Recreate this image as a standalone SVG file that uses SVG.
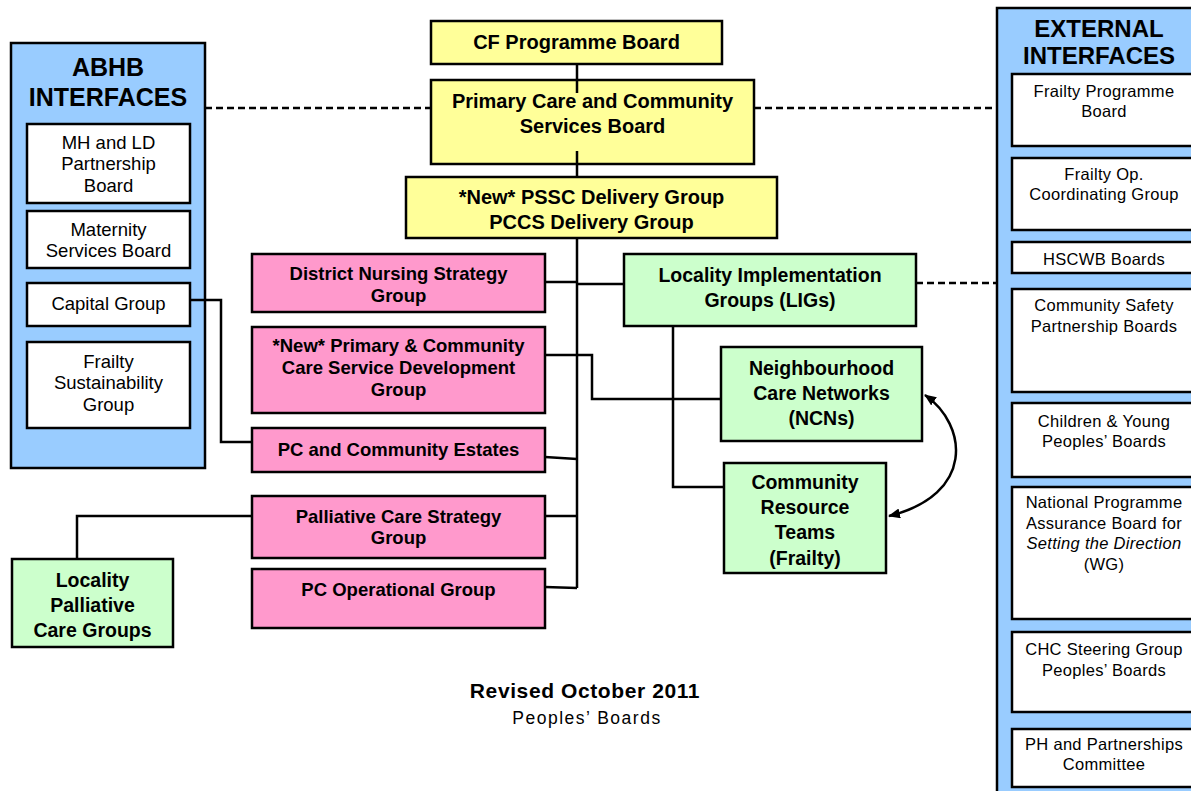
<svg xmlns="http://www.w3.org/2000/svg" width="1191" height="791" viewBox="0 0 1191 791">
<defs>
<style>
text{font-family:"Liberation Sans",Arial,sans-serif;text-anchor:middle;fill:#000}
.panel{fill:#99CCFF;stroke:#000;stroke-width:2.5}
.white{fill:#fff;stroke:#000;stroke-width:2.5}
.yel{fill:#FFFF99;stroke:#000;stroke-width:2.5}
.pink{fill:#FF99CC;stroke:#000;stroke-width:2.5}
.grn{fill:#CCFFCC;stroke:#000;stroke-width:2.5}
.ttl{font-weight:bold;font-size:25px}
.ttl2{font-weight:bold;font-size:24px}
.y{font-weight:bold;font-size:20px}
.p{font-weight:bold;font-size:18.5px}
.g{font-weight:bold;font-size:19.5px}
.a{font-size:18.5px}
.e{font-size:16.5px;letter-spacing:0.3px}
.ln{fill:none;stroke:#000;stroke-width:2.5}
.dash{fill:none;stroke:#000;stroke-width:2.5;stroke-dasharray:7 4}
</style>
<marker id="ah" viewBox="0 0 12 10" refX="11" refY="5" markerWidth="12" markerHeight="10" markerUnits="userSpaceOnUse" orient="auto-start-reverse">
<path d="M0,0 L12,5 L0,10 Z" fill="#000"/>
</marker>
</defs>
<rect width="1191" height="791" fill="#fff"/>

<g id="abhb">
<rect class="panel" x="11" y="43" width="194" height="425"/>
<text class="ttl" x="108" y="76">ABHB</text>
<text class="ttl" x="108" y="106">INTERFACES</text>
</g>
<g id="mhld"><rect class="white" x="27" y="124" width="163" height="79"/>
<text class="a" x="108.5" y="148.5">MH and LD<tspan x="108.5" y="169.5">Partnership</tspan><tspan x="108.5" y="191.5">Board</tspan></text></g>
<g id="maternity"><rect class="white" x="27" y="211" width="163" height="57"/>
<text class="a" x="108.5" y="235.5">Maternity<tspan x="108.5" y="256.5">Services Board</tspan></text></g>
<g id="capital"><rect class="white" x="27" y="283" width="163" height="43"/>
<text class="a" x="108.5" y="309.5">Capital Group</text></g>
<g id="frailty-sus"><rect class="white" x="27" y="342" width="163" height="86"/>
<text class="a" x="108.5" y="367.5">Frailty<tspan x="108.5" y="388.5">Sustainability</tspan><tspan x="108.5" y="410.5">Group</tspan></text></g>

<g id="external">
<rect class="panel" x="997" y="8" width="210" height="800"/>
<text class="ttl2" x="1099" y="36.5">EXTERNAL</text>
<text class="ttl2" x="1099" y="63.5">INTERFACES</text>
</g>
<g id="fpb"><rect class="white" x="1012" y="74" width="190" height="72"/>
<text class="e" x="1104" y="97">Frailty Programme<tspan x="1104" y="117">Board</tspan></text></g>
<g id="fop"><rect class="white" x="1012" y="158" width="190" height="72"/>
<text class="e" x="1104" y="180">Frailty Op.<tspan x="1104" y="200">Coordinating Group</tspan></text></g>
<g id="hscwb"><rect class="white" x="1012" y="242" width="190" height="31"/>
<text class="e" x="1104" y="265">HSCWB Boards</text></g>
<g id="csp"><rect class="white" x="1012" y="289" width="190" height="103"/>
<text class="e" x="1104" y="311">Community Safety<tspan x="1104" y="332">Partnership Boards</tspan></text></g>
<g id="cyp"><rect class="white" x="1012" y="403" width="190" height="74"/>
<text class="e" x="1104" y="427">Children &amp; Young<tspan x="1104" y="447">Peoples’ Boards</tspan></text></g>
<g id="npab"><rect class="white" x="1012" y="487" width="190" height="132"/>
<text class="e" x="1104" y="508">National Programme<tspan x="1104" y="529">Assurance Board for</tspan><tspan x="1104" y="549" font-style="italic">Setting the Direction</tspan><tspan x="1104" y="570">(WG)</tspan></text></g>
<g id="chc"><rect class="white" x="1012" y="632" width="190" height="80"/>
<text class="e" x="1104" y="655">CHC Steering Group<tspan x="1104" y="676">Peoples’ Boards</tspan></text></g>
<g id="ph"><rect class="white" x="1012" y="729" width="190" height="58"/>
<text class="e" x="1104" y="750">PH and Partnerships<tspan x="1104" y="770">Committee</tspan></text></g>

<g id="cf"><rect class="yel" x="431" y="21" width="291" height="43"/>
<text class="y" x="576.5" y="49">CF Programme Board</text></g>
<g id="pccsb"><rect class="yel" x="431" y="80" width="323" height="84"/>
<text class="y" x="592.5" y="108">Primary Care and Community<tspan x="592.5" y="133">Services Board</tspan></text></g>
<g id="pssc"><rect class="yel" x="406" y="177" width="371" height="61"/>
<text class="y" x="591.5" y="204">*New* PSSC Delivery Group<tspan x="591.5" y="229">PCCS Delivery Group</tspan></text></g>

<g id="dnsg"><rect class="pink" x="252" y="254" width="293" height="58"/>
<text class="p" x="398.5" y="279.5">District Nursing Strategy<tspan x="398.5" y="301.5">Group</tspan></text></g>
<g id="pcsdg"><rect class="pink" x="252" y="327" width="293" height="86"/>
<text class="p" x="398.5" y="351.5">*New* Primary &amp; Community<tspan x="398.5" y="373.5">Care Service Development</tspan><tspan x="398.5" y="395.5">Group</tspan></text></g>
<g id="estates"><rect class="pink" x="252" y="428" width="293" height="44"/>
<text class="p" x="398.5" y="455.5">PC and Community Estates</text></g>
<g id="pcsg"><rect class="pink" x="252" y="496" width="293" height="62"/>
<text class="p" x="398.5" y="522.5">Palliative Care Strategy<tspan x="398.5" y="543.5">Group</tspan></text></g>
<g id="pcop"><rect class="pink" x="252" y="569" width="293" height="59"/>
<text class="p" x="398.5" y="595.5">PC Operational Group</text></g>

<g id="lig"><rect class="grn" x="624" y="254" width="292" height="72"/>
<text class="g" x="770" y="282">Locality Implementation<tspan x="770" y="307">Groups (LIGs)</tspan></text></g>
<g id="ncn"><rect class="grn" x="721" y="347" width="201" height="94"/>
<text class="g" x="821.5" y="375">Neighbourhood<tspan x="821.5" y="400">Care Networks</tspan><tspan x="821.5" y="425">(NCNs)</tspan></text></g>
<g id="crt"><rect class="grn" x="724" y="463" width="162" height="110"/>
<text class="g" x="805" y="489">Community<tspan x="805" y="514">Resource</tspan><tspan x="805" y="539">Teams</tspan><tspan x="805" y="565">(Frailty)</tspan></text></g>
<g id="lpcg"><rect class="grn" x="12" y="559" width="161" height="88"/>
<text class="g" x="92.5" y="587">Locality<tspan x="92.5" y="612">Palliative</tspan><tspan x="92.5" y="637">Care Groups</tspan></text></g>

<g id="connectors">
<path class="ln" d="M577,64 V93 M577,151 V177 M577,238 V588"/>
<path class="ln" d="M545,282 H577 M577,284 H624"/>
<path class="ln" d="M545,355 H592 V399 H721"/>
<path class="ln" d="M545,457 L577,459"/>
<path class="ln" d="M545,516 H577"/>
<path class="ln" d="M545,587 L577,588"/>
<path class="ln" d="M252,516 H77 V559"/>
<path class="ln" d="M190,300 H221 V442 H252"/>
<path class="ln" d="M673,326 V487 H724"/>
<path class="dash" d="M205,108 H431"/>
<path class="dash" d="M754,108 H997"/>
<path class="dash" d="M916,283 H997"/>
<path class="ln" d="M925,395 C968,425 975,495 889,516" marker-start="url(#ah)" marker-end="url(#ah)"/>
</g>

<g id="footer">
<text x="585" y="698" style="font-weight:bold;font-size:21px;letter-spacing:0.6px">Revised October 2011</text>
<text x="587" y="724" style="font-size:17.5px;letter-spacing:1.5px">Peoples’ Boards</text>
</g>
</svg>
